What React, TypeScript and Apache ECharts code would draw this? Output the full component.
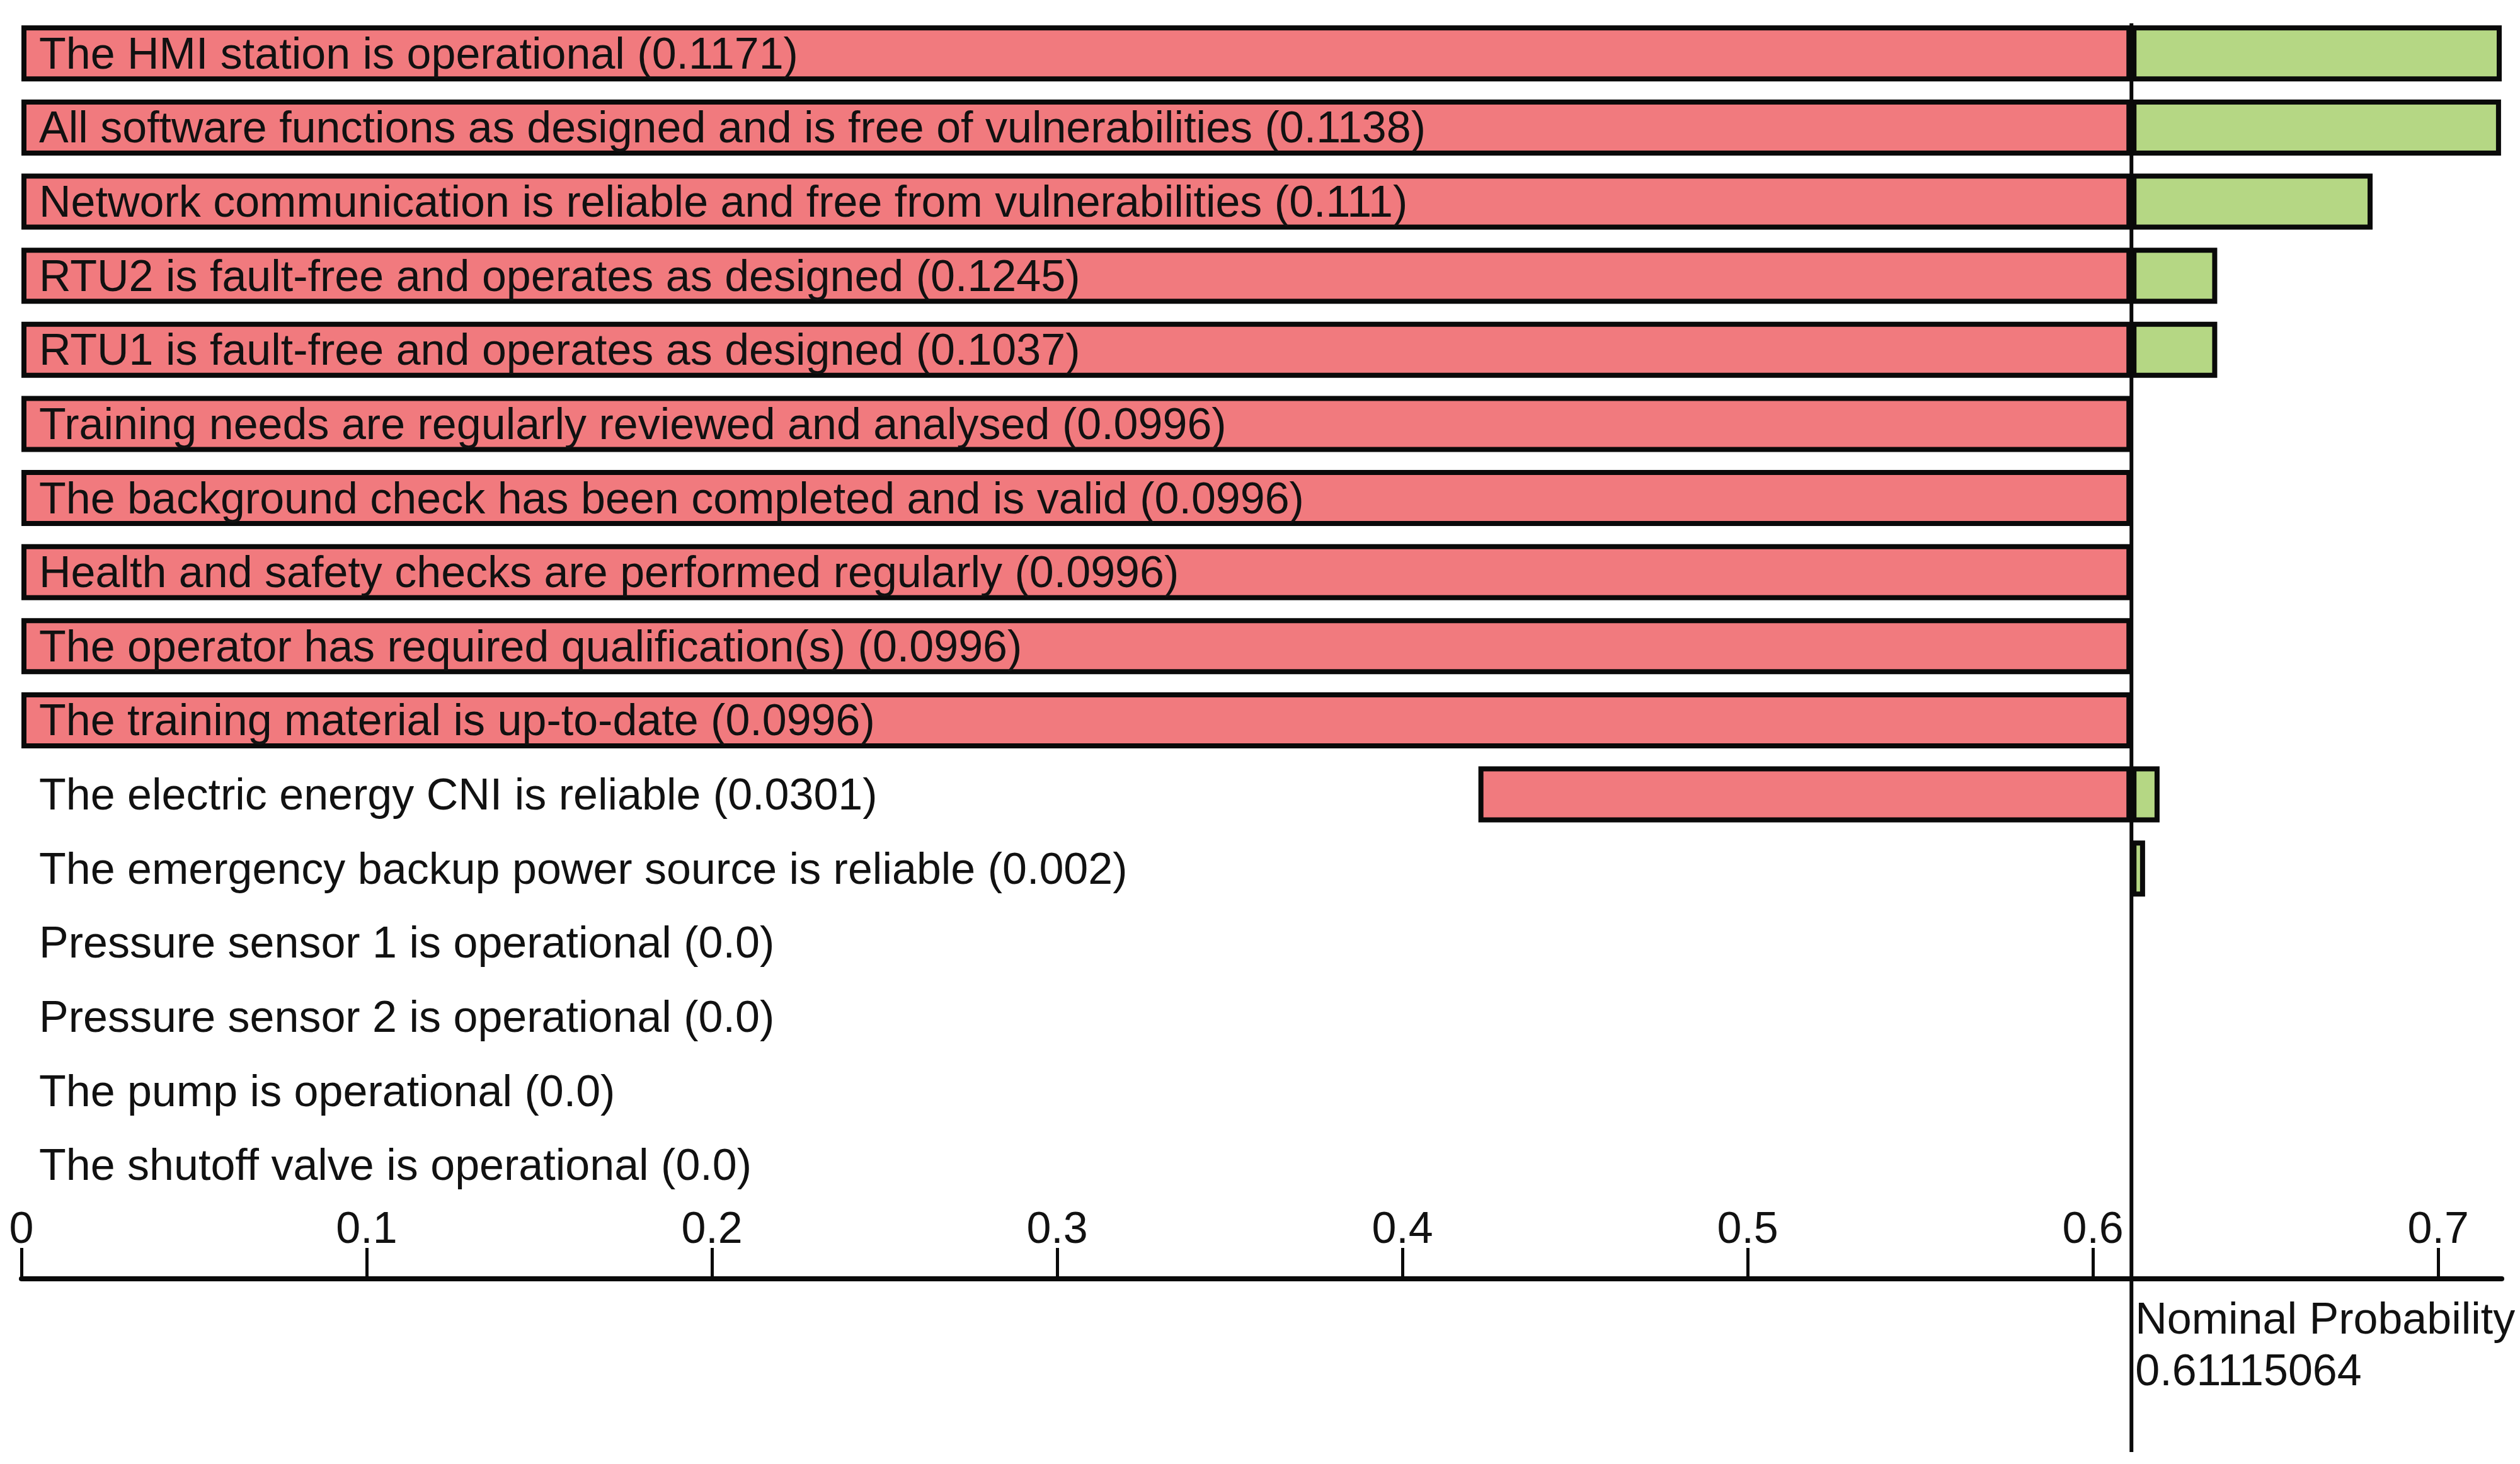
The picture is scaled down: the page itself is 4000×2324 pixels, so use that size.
import React, { useEffect, useRef } from "react";
import * as echarts from "echarts";

// Nominal probability of the top event
const NOMINAL = 0.61115064;

// Factors (top to bottom) and their importance scores shown in the labels
const FACTORS = [
  "The HMI station is operational",
  "All software functions as designed and is free of vulnerabilities",
  "Network communication is reliable and free from vulnerabilities",
  "RTU2 is fault-free and operates as designed",
  "RTU1 is fault-free and operates as designed",
  "Training needs are regularly reviewed and analysed",
  "The background check has been completed and is valid",
  "Health and safety checks are performed regularly",
  "The operator has required qualification(s)",
  "The training material is up-to-date",
  "The electric energy CNI is reliable",
  "The emergency backup power source is reliable",
  "Pressure sensor 1 is operational",
  "Pressure sensor 2 is operational",
  "The pump is operational",
  "The shutoff valve is operational",
];
const SCORES = [
  "0.1171", "0.1138", "0.111", "0.1245", "0.1037",
  "0.0996", "0.0996", "0.0996", "0.0996", "0.0996",
  "0.0301", "0.002", "0.0", "0.0", "0.0", "0.0",
];

// Probability when the factor is false (low) and when it is true (high)
const LOW = [
  0, 0, 0, 0, 0,
  0, 0, 0, 0, 0,
  0.422, NOMINAL, NOMINAL, NOMINAL, NOMINAL, NOMINAL,
];
const HIGH = [
  0.7184, 0.7182, 0.681, 0.636, 0.636,
  NOMINAL, NOMINAL, NOMINAL, NOMINAL, NOMINAL,
  0.6193, 0.6151, NOMINAL, NOMINAL, NOMINAL, NOMINAL,
];

const TICKS = [0, 0.1, 0.2, 0.3, 0.4, 0.5, 0.6, 0.7];
const AXIS_MIN = 0;
const AXIS_MAX = 0.7184;

const FONT = "Liberation Sans, Arial, Helvetica, sans-serif";
const RED = "#F17A7E";
const GREEN = "#B5D784";
const INK = "#0a0a0a";

export default function App() {
  const ref = useRef<HTMLDivElement>(null);

  useEffect(() => {
    if (!ref.current) return;
    const chart = echarts.init(ref.current, null, { renderer: "svg", width: 4000, height: 2324 });

    const labels = FACTORS.map((f, i) => `${f} (${SCORES[i]})`);
    const redBase = LOW.map((l) => (l < NOMINAL ? l : "-"));
    const redVal = LOW.map((l) => (l < NOMINAL ? NOMINAL - l : "-"));
    const greenBase = HIGH.map((h) => (h > NOMINAL ? NOMINAL : "-"));
    const greenVal = HIGH.map((h) => (h > NOMINAL ? h - NOMINAL : "-"));

    const left = 34;
    const right = 29;
    const barWidth = 89;
    const border = 8;

    const hiddenX = (gridIndex: number) => ({
      type: "value",
      gridIndex,
      min: AXIS_MIN,
      max: AXIS_MAX,
      show: false,
      splitLine: { show: false },
    });

    const option: any = {
      animation: false,
      backgroundColor: "#ffffff",
      textStyle: { fontFamily: FONT },
      grid: [
        { left, right, top: 26, height: 1882, outerBoundsMode: "none", containLabel: false },
        { left, right, top: 2029, height: 1, outerBoundsMode: "none", containLabel: false },
        { left, right, top: 37, bottom: 19, outerBoundsMode: "none", containLabel: false },
      ],
      xAxis: [
        hiddenX(0),
        {
          type: "value",
          gridIndex: 1,
          min: AXIS_MIN,
          max: AXIS_MAX,
          position: "bottom",
          splitLine: { show: false },
          axisLine: { show: true, lineStyle: { color: INK, width: 8 } },
          axisTick: {
            show: true,
            inside: true,
            length: 49,
            customValues: TICKS,
            lineStyle: { color: INK, width: 5 },
          },
          axisLabel: {
            show: true,
            inside: true,
            margin: 46,
            customValues: TICKS,
            color: "#111111",
            fontSize: 70,
            fontFamily: FONT,
            formatter: (v: number) => (v === 0 ? "0" : String(Math.round(v * 10) / 10)),
          },
        },
        hiddenX(2),
      ],
      yAxis: [
        {
          type: "category",
          gridIndex: 0,
          data: labels,
          inverse: true,
          z: 10,
          axisLine: { show: false },
          axisTick: { show: false },
          splitLine: { show: false },
          axisLabel: {
            inside: true,
            margin: 28,
            color: "#111111",
            fontSize: 70,
            fontFamily: FONT,
            align: "left",
            verticalAlign: "middle",
            interval: 0,
          },
        },
        { type: "value", gridIndex: 1, show: false, min: 0, max: 1 },
        { type: "value", gridIndex: 2, show: false, min: 0, max: 1, inverse: true },
      ],
      series: [
        {
          name: "redBase",
          type: "bar",
          xAxisIndex: 0,
          yAxisIndex: 0,
          stack: "low",
          barWidth,
          barGap: "-100%",
          silent: true,
          itemStyle: { color: "rgba(0,0,0,0)", borderWidth: 0 },
          data: redBase,
        },
        {
          name: "Low",
          type: "bar",
          xAxisIndex: 0,
          yAxisIndex: 0,
          stack: "low",
          barWidth,
          barGap: "-100%",
          silent: true,
          itemStyle: { color: RED, borderColor: INK, borderWidth: border },
          data: redVal,
        },
        {
          name: "greenBase",
          type: "bar",
          xAxisIndex: 0,
          yAxisIndex: 0,
          stack: "high",
          barWidth,
          barGap: "-100%",
          silent: true,
          itemStyle: { color: "rgba(0,0,0,0)", borderWidth: 0 },
          data: greenBase,
        },
        {
          name: "High",
          type: "bar",
          xAxisIndex: 0,
          yAxisIndex: 0,
          stack: "high",
          barWidth,
          barGap: "-100%",
          silent: true,
          itemStyle: { color: GREEN, borderColor: INK, borderWidth: border },
          data: greenVal,
        },
        {
          name: "Nominal",
          type: "line",
          xAxisIndex: 2,
          yAxisIndex: 2,
          z: 5,
          silent: true,
          symbol: "none",
          lineStyle: { color: INK, width: 6 },
          data: [
            [NOMINAL, 0],
            [NOMINAL, 1],
          ],
        },
      ],
    };

    chart.setOption(option);

    const px = chart.convertToPixel({ xAxisIndex: 2 } as any, NOMINAL) as number;
    chart.setOption({
      graphic: [
        {
          type: "text",
          x: px + 6,
          y: 2052,
          silent: true,
          style: {
            text: `Nominal Probability\n${NOMINAL}`,
            fontSize: 70,
            lineHeight: 82,
            fontFamily: FONT,
            fill: "#111111",
            align: "left",
            verticalAlign: "top",
          },
        },
      ],
    });

    return () => chart.dispose();
  }, []);

  return (
    <div
      ref={ref}
      style={{ position: "fixed", left: 0, top: 0, width: 4000, height: 2324, background: "#ffffff" }}
    />
  );
}
